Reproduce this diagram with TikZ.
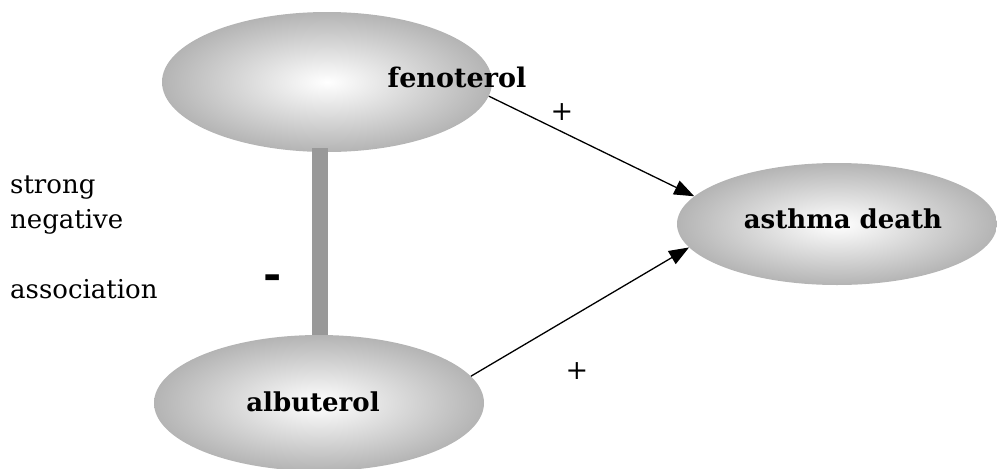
\documentclass[tikz,border=0pt]{standalone}
\usepackage{fontspec}
\setmainfont{DejaVu Serif}
\usetikzlibrary{shapes.geometric,arrows.meta}
\definecolor{ellout}{RGB}{180,180,180}
\definecolor{bargray}{RGB}{153,153,153}
\tikzset{
  blob/.style={ellipse, draw=none, inner color=white, outer color=ellout, inner sep=0pt},
  blabel/.style={font=\fontsize{26}{30}\selectfont\bfseries, inner sep=0pt},
  plain/.style={font=\fontsize{26}{30}\selectfont, inner sep=0pt, anchor=base west},
  sign/.style={font=\fontsize{27}{30}\selectfont, inner sep=0pt},
  conn/.style={line width=1.3pt, -{Triangle[length=20pt,width=15pt]}},
}
\begin{document}
\begin{tikzpicture}[x=1pt,y=-1pt]
\useasboundingbox (0,0) rectangle (997,469);
\node[blob, minimum width=330pt, minimum height=140pt] (feno) at (327,82) {};
\node[blob, minimum width=320pt, minimum height=122pt] (asthma) at (837,224) {};
\coordinate (bartop) at (320,148);
\coordinate (barbot) at (320,337);
\draw[bargray, line width=16pt] (bartop) -- (barbot);
\node[blob, minimum width=330pt, minimum height=136pt] (albu) at (319,403) {};
\node[blabel, font=\fontsize{27}{31}\selectfont\bfseries] (fenolab) at (457,77) {fenoterol};
\node[blabel] (asthmalab) at (843,219) {asthma death};
\node[blabel] (albulab) at (313,402) {albuterol};
\draw[conn] (feno.-5.4) -- (asthma.169.6);
\draw[conn] (albu.10) -- (asthma.189);
\node[sign] (plus1) at (562,112) {+};
\node[sign] (plus2) at (577,371) {+};
\node[font=\fontsize{44}{46}\selectfont\bfseries, inner sep=0pt] (minus) at (273,282) {-};
\node[plain] (t1) at (10,193) {strong};
\node[plain] (t2) at (10,228) {negative};
\node[plain] (t3) at (10,298) {association};
\end{tikzpicture}
\end{document}
